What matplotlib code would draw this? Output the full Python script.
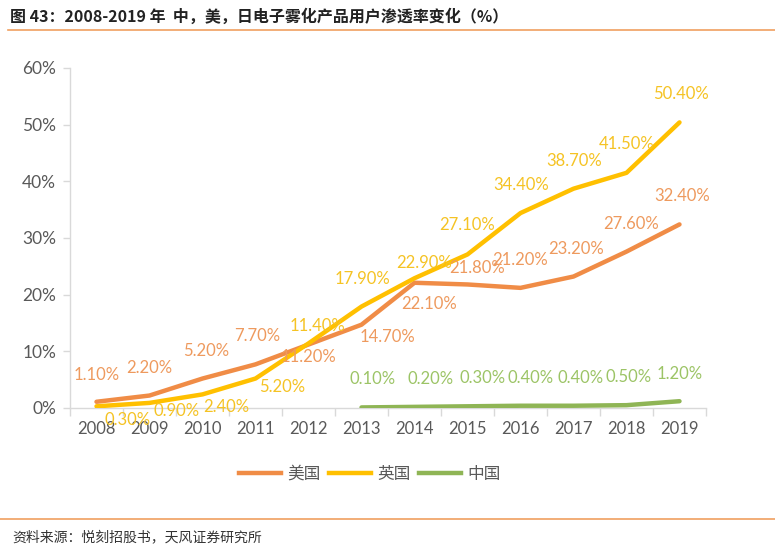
import matplotlib
matplotlib.use("Agg")
import matplotlib.pyplot as plt
from matplotlib.lines import Line2D
import numpy as np

plt.rcParams['font.family'] = ['Noto Sans CJK SC', 'DejaVu Sans']

# 数据
years = ["2008", "2009", "2010", "2011", "2012", "2013", "2014", "2015", "2016", "2017", "2018", "2019"]
us = [1.1, 2.2, 5.2, 7.7, 11.2, 14.7, 22.1, 21.8, 21.2, 23.2, 27.6, 32.4]
uk = [0.3, 0.9, 2.4, 5.2, 11.4, 17.9, 22.9, 27.1, 34.4, 38.7, 41.5, 50.4]
cn_years = ["2013", "2014", "2015", "2016", "2017", "2018", "2019"]
cn = [0.1, 0.2, 0.3, 0.4, 0.4, 0.5, 1.2]
y_ticks = [0, 10, 20, 30, 40, 50, 60]

# label offsets (pixels), picked by eye
us_off = [(0, 27), (0, 28), (4, 28), (2, 28), (0, -12), (26, -12), (15, -21),
          (10, 16), (0, 28), (3, 28), (5, 28), (3, 28)]
uk_off = [(31, -14), (27, -8), (24, -13), (27, -8), (9, 17), (1, 28), (10, 15),
          (0, 29), (1, 28), (1, 28), (0, 29), (1, 28)]
cn_off = [(11, 28), (16, 28), (15, 28), (10, 28), (7, 28), (2, 28), (0, 27)]

c_us, c_us_lbl = "#F08C46", "#EE9A5E"
c_uk, c_uk_lbl = "#FFC000", "#F5C324"
c_cn, c_cn_lbl = "#8FB555", "#9CC466"
num_font = "Lato"

fig = plt.figure(figsize=(7.75, 5.56), dpi=100)
ax = fig.add_axes([70 / 775, 1 - 408 / 556, 636 / 775, 340 / 556])

x = np.arange(len(years))
xc = np.array([years.index(y) for y in cn_years])
ax.plot(x, us, color=c_us, lw=3.2, solid_capstyle="round", solid_joinstyle="round", zorder=3)
ax.plot(x, uk, color=c_uk, lw=3.2, solid_capstyle="round", solid_joinstyle="round", zorder=3)
ax.plot(xc, cn, color=c_cn, lw=3.2, solid_capstyle="round", solid_joinstyle="round", zorder=3)

def put_labels(xs, vals, offs, col):
    for xi, v, (dx, dy) in zip(xs, vals, offs):
        ax.annotate(f"{v:.2f}%", (xi, v), xytext=(dx, dy), textcoords="offset pixels",
                    ha="center", va="center", fontsize=12, color=col,
                    family=num_font, zorder=4)

put_labels(x, us, us_off, c_us_lbl)
put_labels(x, uk, uk_off, c_uk_lbl)
put_labels(xc, cn, cn_off, c_cn_lbl)

ax.set_xlim(-0.5, len(years) - 0.5)
ax.set_ylim(0, 60)
ax.set_yticks(y_ticks)
ax.set_yticklabels([f"{t}%" for t in y_ticks], family=num_font, fontsize=12.5, color="#595959")
ax.set_xticks(x)
ax.set_xticklabels(years, family=num_font, fontsize=12, color="#595959")
ax.set_xticks(np.arange(-0.5, len(years)), minor=True)
ax.tick_params(axis="x", which="major", length=0, pad=9)
ax.tick_params(axis="x", which="minor", length=6, color="#D9D9D9", width=1)
ax.tick_params(axis="y", length=5, color="#D9D9D9", width=1, pad=5)
for s in ["top", "right"]:
    ax.spines[s].set_visible(False)
for s in ["left", "bottom"]:
    ax.spines[s].set_color("#D9D9D9")
    ax.spines[s].set_linewidth(1)

# legend
handles = [Line2D([], [], color=c_us, lw=3.2), Line2D([], [], color=c_uk, lw=3.2),
           Line2D([], [], color=c_cn, lw=3.2)]
fig.legend(handles, ["美国", "英国", "中国"], loc="center", bbox_to_anchor=(370 / 775, 1 - 474 / 556),
           ncol=3, frameon=False, fontsize=12, handlelength=2.5, columnspacing=0.5,
           handletextpad=0.4, labelcolor="#595959")

# title and source
fig.text(10 / 775, 1 - 17 / 556, "图 43：2008-2019 年  中，美，日电子雾化产品用户渗透率变化（%）",
         fontsize=11.5, fontweight="bold", color="#222222", va="center", ha="left")
fig.add_artist(Line2D([8 / 775, 1.0], [1 - 30 / 556] * 2, color="#F0A060", lw=1.2))
fig.add_artist(Line2D([0.0, 1.0], [1 - 519 / 556] * 2, color="#F0A060", lw=1.2))
fig.text(12 / 775, 1 - 537 / 556, "资料来源：悦刻招股书，天风证券研究所",
         fontsize=10, color="#333333", va="center", ha="left")

fig.savefig("out.png", dpi=100)
